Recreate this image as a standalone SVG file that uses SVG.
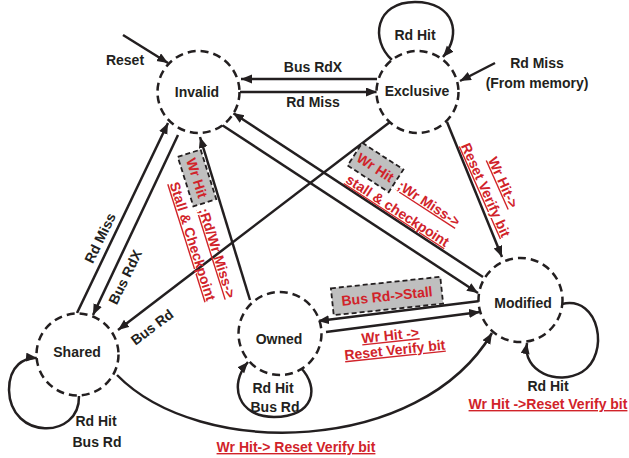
<svg xmlns="http://www.w3.org/2000/svg" width="629" height="458" viewBox="0 0 629 458">
<style>
text{font-family:"Liberation Sans",Arial,sans-serif;font-weight:bold;font-size:14px;fill:#231f20}
.c{text-anchor:middle}
.r{fill:#d1232a}
.u{text-decoration:underline}
.node{fill:#fff;stroke:#231f20;stroke-width:2.5;stroke-dasharray:8 5}
.box{fill:#bfbfbf;stroke:#231f20;stroke-width:1.8;stroke-dasharray:5 3}
.e{fill:none;stroke:#231f20;stroke-width:2.5;marker-end:url(#ah)}
</style>
<defs>
<marker id="ah" markerUnits="userSpaceOnUse" markerWidth="12" markerHeight="10" refX="11" refY="4.5" orient="auto">
<path d="M0,0 L11,4.5 L0,9 z" fill="#231f20"/>
</marker>
</defs>
<rect width="629" height="458" fill="#fff"/>
<g id="connectors">
<path class="e" d="M123,35 L168,63"/>
<path class="e" d="M495,63 L460,81"/>
<path class="e" d="M377,79 L241,79"/>
<path class="e" d="M240,92 L377,92"/>
<path class="e" d="M392,60 C370,40 375,2 415,2 C455,2 462,35 443,57"/>
<path class="e" d="M447,122 L502,257"/>
<path class="e" d="M390,122 L118,330"/>
<path class="e" d="M483,277 L233,113"/>
<path class="e" d="M222,125 L478,293"/>
<path class="e" d="M77,313 L168,123"/>
<path class="e" d="M178,135 L93,315"/>
<path class="e" d="M250,300 L200,137"/>
<path class="e" d="M480,301 L318,321"/>
<path class="e" d="M326,332 L480,312"/>
<path class="e" d="M117,375 C200,460 420,455 492,333"/>
<path class="e" d="M79,396 C80,440 10,440 9,390 C9,365 25,357 37,358"/>
<path class="e" d="M301,368 C320,388 314,417 274,417 C238,417 228,385 248,362"/>
<path class="e" d="M562,304 C600,295 610,355 582,372 C558,386 522,372 527,343"/>
</g>
<g id="invalid"><circle class="node" cx="198.5" cy="92" r="41"/><text class="c" x="197" y="97">Invalid</text></g>
<g id="exclusive"><circle class="node" cx="417.5" cy="92" r="41"/><text class="c" x="417" y="96">Exclusive</text></g>
<g id="shared"><circle class="node" cx="77.5" cy="354.5" r="41"/><text class="c" x="77" y="357">Shared</text></g>
<g id="owned"><circle class="node" cx="280" cy="333.5" r="41.5"/><text class="c" x="279" y="344">Owned</text></g>
<g id="modified"><circle class="node" cx="520.5" cy="300" r="42"/><text class="c" x="523" y="308">Modified</text></g>
<g id="labels">
<text class="c" x="125" y="65">Reset</text>
<text class="c" x="537" y="68">Rd Miss</text>
<text class="c" x="537" y="88">(From memory)</text>
<text class="c" x="415" y="40">Rd Hit</text>
<text class="c" x="313" y="72">Bus RdX</text>
<text class="c" x="313" y="107">Rd Miss</text>
<text class="c" transform="translate(100,238) rotate(-64)" x="0" y="5">Rd Miss</text>
<text class="c" transform="translate(125,277) rotate(-64)" x="0" y="5">Bus RdX</text>
<text class="c" transform="translate(152,327) rotate(-37)" x="0" y="5">Bus Rd</text>
<text class="c" x="96" y="426">Rd Hit</text>
<text class="c" x="97" y="447">Bus Rd</text>
<text class="c" x="273" y="393">Rd Hit</text>
<text class="c" x="275" y="412">Bus Rd</text>
<text class="c" x="548" y="391">Rd Hit</text>
<text class="c r u" x="548" y="409">Wr Hit -&gt;Reset Verify bit</text>
<text class="c r u" x="296" y="452">Wr Hit-&gt; Reset Verify bit</text>
<g transform="translate(197,178) rotate(72.5)">
<rect class="box" x="-26" y="-12" width="52" height="24"/>
<text class="c r" x="0" y="5">Wr Hit</text>
<text class="r u" x="31" y="8">;Rd/Wr Miss-&gt;</text>
<text class="c r u" x="59" y="28">Stall &amp; Checkpoint</text>
</g>
<g transform="translate(375.5,167.5) rotate(33)">
<rect class="box" x="-24.5" y="-13.5" width="49" height="27"/>
<text class="c r" x="0" y="5">Wr Hit</text>
<text class="r u" x="29" y="6">;Wr Miss-&gt;</text>
<text class="c r u" x="42" y="29">stall &amp; checkpoint</text>
</g>
<g transform="translate(486,190) rotate(66)">
<text class="c r u" x="0" y="-14">Wr Hit-&gt;</text>
<text class="c r u" x="0" y="5">Reset Verify bit</text>
</g>
<g transform="translate(387,296) rotate(-6)">
<rect class="box" x="-55" y="-13.5" width="110" height="27"/>
<text class="c r" x="0" y="5">Bus Rd-&gt;Stall</text>
</g>
<g transform="translate(392,342) rotate(-6)">
<text class="c r u" x="-1" y="-2">Wr Hit -&gt;</text>
<text class="c r u" x="2" y="13">Reset Verify bit</text>
</g>
</g>
</svg>
